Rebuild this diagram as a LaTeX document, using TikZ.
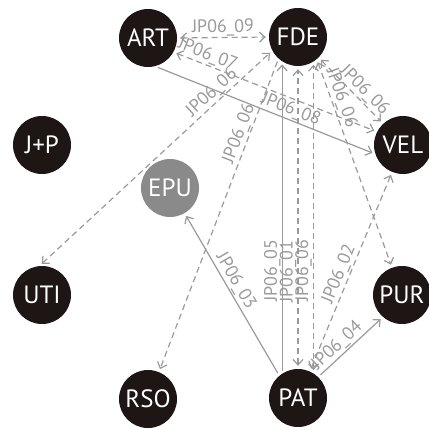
\documentclass[tikz,border=0pt]{standalone}
\usepackage{fontspec}
\setmainfont{PT Sans}
\usetikzlibrary{arrows.meta,positioning}
\definecolor{nodeblack}{HTML}{1E1515}
\definecolor{nodegrey}{HTML}{8A8A8A}
\definecolor{linegrey}{HTML}{9A9A9A}
\tikzset{%
    role/.style={%
        circle, minimum size=58pt, inner sep=0pt, fill=nodeblack, text=white, font=\fontsize{25}{25}\selectfont
    },
    role_grey/.style={%
        role, fill=nodegrey
    },
    msg/.style={%
        draw=linegrey, line width=1.2pt, ->, >={Straight Barb[length=5.5pt,width=10pt]}, shorten >=3pt, shorten <=3pt
    },
    msg_both/.style={%
        msg, <->
    },
    msg_dashed/.style={%
        dash pattern=on 6pt off 4pt
    },
    msg_label/.style={%
        sloped, above, inner sep=1pt, text=linegrey, font=\fontsize{18}{18}\selectfont
    },
}

\begin{document}
\begin{tikzpicture}[x=1pt, y=-1pt]

    \useasboundingbox (0,0) rectangle (428,430);

    \node[role] (ART) at (148,38) {ART};
    \node[role] (FDE) at (298,37) {FDE};
    \node[role] (JP) at (42,145) {J+P};
    \node[role] (VEL) at (403,145) {VEL};
    \node[role_grey] (EPU) at (170,188) {EPU};
    \node[role] (UTI) at (42,295) {UTI};
    \node[role] (PUR) at (402,295) {PUR};
    \node[role] (RSO) at (148,399) {RSO};
    \node[role] (PAT) at (298,398) {PAT};

    \draw[msg_both, msg_dashed] (ART.east) -- (FDE.west) node[msg_label, midway] {JP06\_09};
    \draw[msg_both, msg_dashed] (ART.-29) -- (VEL.153) node[msg_label, pos=0.15] {JP06\_07};
    \draw[msg] (ART.-76) -- (VEL.198) node[msg_label, pos=0.6] {JP06\_08};
    \draw[msg_both, msg_dashed] (UTI.95) -- (FDE.208) node[msg_label, pos=0.77] {JP06\_06};
    \draw[msg, msg_dashed] (FDE.228) -- (RSO.68) node[msg_label, pos=0.25] {JP06\_06};
    \draw[msg_both, msg_dashed] (FDE.-45) -- (VEL.133) node[msg_label, pos=0.6] {JP06\_06};
    \draw[msg_both, msg_dashed] (FDE.-50) -- (PUR.110) node[msg_label, pos=0.2] {JP06\_06};

    \draw[msg] (PAT.123) -- (FDE.237) node[msg_label, pos=0.33] {JP06\_05};
    \draw[msg_both, msg_dashed] (PAT.north) -- (FDE.south) node[msg_label, pos=0.32] {JP06\_01};
    \draw[msg_both, msg_dashed] (PAT.58) -- (FDE.-58) node[msg_label, pos=0.33] {JP06\_06};
    \draw[msg_both, msg_dashed] (PAT.66) -- (VEL.248) node[msg_label, pos=0.47] {JP06\_02};
    \draw[msg] (PAT.130) -- (EPU.-60) node[msg_label, pos=0.55] {JP06\_03};
    \draw[msg] (PAT.46) -- (PUR.229) node[msg_label, pos=0.4] {JP06\_04};

\end{tikzpicture}
\end{document}
